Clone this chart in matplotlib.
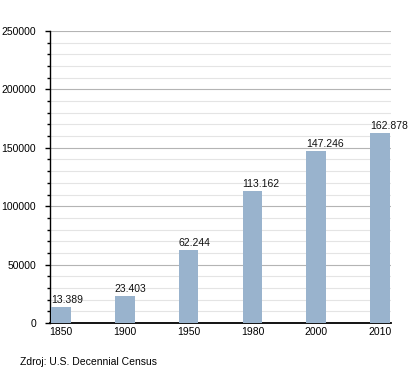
import matplotlib.pyplot as plt
from matplotlib.ticker import MultipleLocator

years = ["1850", "1900", "1950", "1980", "2000", "2010"]
population = [13389, 23403, 62244, 113162, 147246, 162878]
value_labels = ["13.389", "23.403", "62.244", "113.162", "147.246", "162.878"]

plt.rcParams['font.family'] = ['Liberation Sans', 'DejaVu Sans']

fig = plt.figure(figsize=(4.2, 3.73), dpi=100)
ax = fig.add_axes([50 / 420, 50 / 373, 341 / 420, 292 / 373])

bar_w = 0.31
x = list(range(len(years)))
bars = ax.bar(x, population, width=bar_w, color='#99b3cd', zorder=3)

for rect, lab in zip(bars, value_labels):
    ax.text(rect.get_x(), rect.get_height() + 1800, lab,
            ha='left', va='bottom', fontsize=7.5, color='#111111', zorder=4)

ax.set_xlim(-0.17, 5.17)
ax.set_ylim(0, 250000)
ax.set_xticks(x)
ax.set_xticklabels(years)
ax.yaxis.set_major_locator(MultipleLocator(50000))
ax.yaxis.set_minor_locator(MultipleLocator(10000))

ax.grid(axis='y', which='major', color='#b4b4b4', linewidth=0.8, zorder=1)
ax.grid(axis='y', which='minor', color='#e4e4e4', linewidth=0.8, zorder=1)

for s in ['top', 'right']:
    ax.spines[s].set_visible(False)
ax.spines['left'].set_linewidth(1.0)
ax.spines['bottom'].set_linewidth(1.3)

ax.tick_params(axis='y', which='major', length=3.6, width=1, pad=6.5, labelsize=7.5)
ax.tick_params(axis='y', which='minor', length=2.2, width=1)
ax.tick_params(axis='x', length=0, pad=3, labelsize=7.5)

fig.text(20 / 420, 1 - 362 / 373, "Zdroj: U.S. Decennial Census",
         fontsize=7.5, ha='left', va='center')

fig.savefig('out.png', dpi=100)
